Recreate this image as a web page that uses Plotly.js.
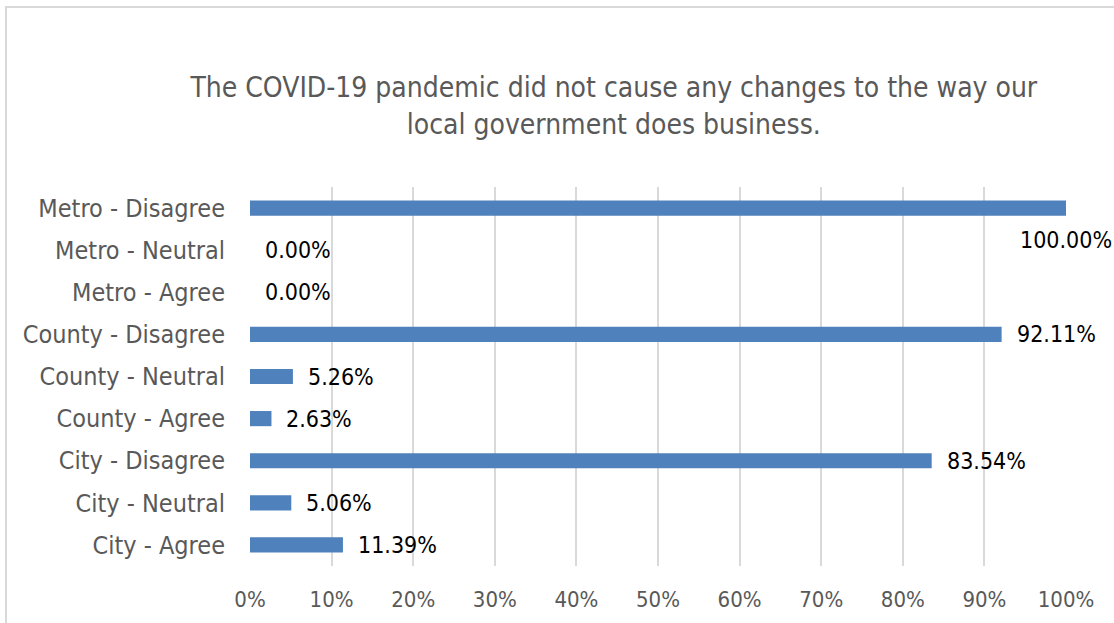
<!DOCTYPE html>
<html><head><meta charset="utf-8">
<script src="https://cdn.plot.ly/plotly-3.0.1.min.js"></script>
<style>
body{margin:0;padding:0;background:#fff;}
#frame{position:absolute;left:5px;top:6px;width:1200px;height:700px;border-left:2px solid #d9d9d9;border-top:2px solid #d9d9d9;}
#chart{position:absolute;left:0;top:0;width:1114px;height:623px;}
</style></head>
<body>
<div id="frame"></div>
<div id="chart"></div>
<script>
const categories = ["City - Agree","City - Neutral","City - Disagree","County - Agree","County - Neutral","County - Disagree","Metro - Agree","Metro - Neutral","Metro - Disagree"];
const values = [11.39, 5.06, 83.54, 2.63, 5.26, 92.11, 0, 0, 100];
const labels = ["11.39%","5.06%","83.54%","2.63%","5.26%","92.11%","0.00%","0.00%","100.00%"];
const tickVals = [0,10,20,30,40,50,60,70,80,90,100];
const tickText = ["0%","10%","20%","30%","40%","50%","60%","70%","80%","90%","100%"];

const FONT = "DejaVu Sans Condensed, DejaVu Sans, sans-serif";

const annotations = values.map((v,i)=>{
  const last = v >= 100;
  return {
    x: v, y: categories[i], xref:'x', yref:'y',
    text: labels[i], showarrow:false,
    xanchor: last ? 'center' : 'left',
    yanchor: 'middle',
    xshift: last ? 0 : 13,
    yshift: last ? -32 : 0,
    font:{family:FONT, size:23, color:'#000000'}
  };
});

Plotly.newPlot('chart',[{
  type:'bar', orientation:'h',
  x: values, y: categories,
  marker:{color:'#4f81bd'},
  hoverinfo:'none'
}],{
  width:1114, height:623,
  paper_bgcolor:'rgba(0,0,0,0)', plot_bgcolor:'rgba(0,0,0,0)',
  margin:{l:250, r:48, t:187, b:57},
  bargap:0.64,
  showlegend:false,
  title:{text:"The COVID-19 pandemic did not cause any changes to the way our<br>local government does business.",
    font:{family:FONT, size:28, color:'#595959'}, x:0.551, xanchor:'center', xref:'container', y:0.844, yanchor:'middle', yref:'container'},
  xaxis:{range:[0,100], tickvals:tickVals, ticktext:tickText, showgrid:true, gridcolor:'#d9d9d9', gridwidth:2,
    zeroline:false, showline:false, ticks:'', tickfont:{family:FONT, size:22, color:'#595959'}, ticklabelstandoff:18, fixedrange:true},
  yaxis:{type:'category', categoryorder:'array', categoryarray:categories, showgrid:false, zeroline:false,
    showline:false, ticks:'', tickfont:{family:FONT, size:25, color:'#595959'}, ticklabelstandoff:24, fixedrange:true},
  annotations: annotations
},{displayModeBar:false, staticPlot:true});
</script>
</body></html>
